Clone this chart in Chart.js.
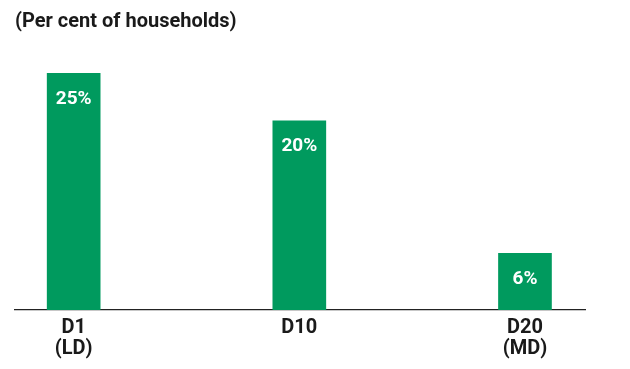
<!DOCTYPE html>
<html>
<head>
<meta charset="utf-8">
<script src="https://cdn.jsdelivr.net/npm/chart.js@4"></script>
<style>
  html, body { margin: 0; padding: 0; background: #fff; }
  #wrap { width: 630px; height: 369px; }
</style>
</head>
<body>
<div id="wrap"><canvas id="chart" width="630" height="369"></canvas></div>
<script>
// values
const categories = [['D1', '(LD)'], ['D10'], ['D20', '(MD)']];
const shares = [25, 20, 6];
const valueLabels = ['25%', '20%', '6%'];

const FONT = "Roboto, sans-serif";
const GREEN = '#009a5e';

// white % labels inside the top of each bar
const barLabels = {
  id: 'barLabels',
  afterDatasetsDraw(chart) {
    const { ctx } = chart;
    const meta = chart.getDatasetMeta(0);
    ctx.save();
    ctx.fillStyle = '#fff';
    ctx.font = `bold 19px ${FONT}`;
    ctx.textAlign = 'center';
    ctx.textBaseline = 'middle';
    meta.data.forEach((bar, i) => {
      ctx.fillText(valueLabels[i], bar.x, bar.y + 26);
    });
    ctx.restore();
  },
};

new Chart(document.getElementById('chart'), {
  type: 'bar',
  data: {
    datasets: [
      {
        data: shares.map((v, i) => ({ x: i, y: v })),
        backgroundColor: GREEN,
        barThickness: 53,
      },
    ],
  },
  options: {
    responsive: false,
    animation: false,
    layout: { padding: { left: 15, right: 45, top: 0, bottom: 3 } },
    plugins: {
      legend: { display: false },
      tooltip: { enabled: false },
      title: {
        display: true,
        text: '(Per cent of households)',
        align: 'start',
        color: '#1a1a1a',
        font: { family: FONT, size: 20, weight: 'bold', lineHeight: 1.2 },
        padding: { top: 10, bottom: 11 },
      },
    },
    scales: {
      x: {
        type: 'linear',
        offset: false,
        min: -0.26,
        max: 2.266,
        grid: { display: false, drawTicks: false },
        border: { display: true, color: '#222', width: 1.3 },
        afterBuildTicks: (axis) => {
          axis.ticks = categories.map((c, i) => ({ value: i }));
        },
        ticks: {
          padding: 7,
          color: '#1a1a1a',
          font: { family: FONT, size: 20, weight: 'bold', lineHeight: 1.05 },
          callback: (v) => categories[v],
        },
      },
      y: {
        display: false,
        min: 0,
        max: 28,
      },
    },
  },
  plugins: [barLabels],
});
</script>
</body>
</html>
